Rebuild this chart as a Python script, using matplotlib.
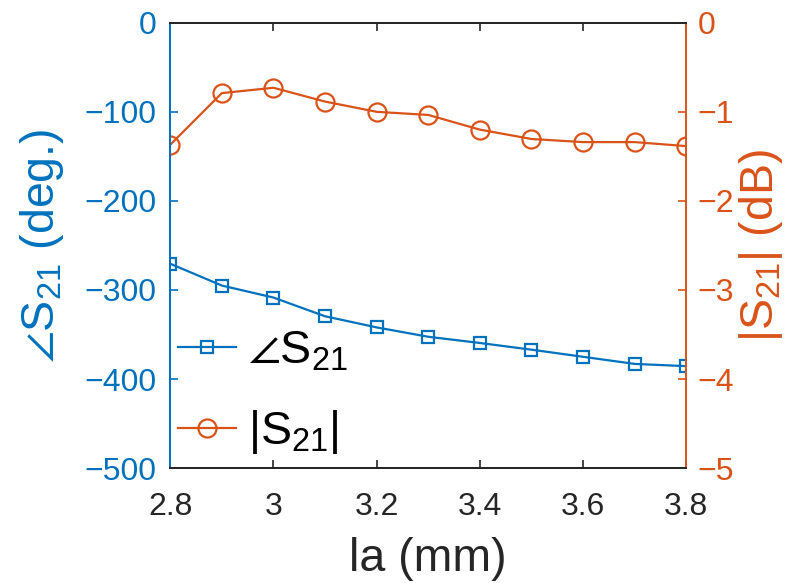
import numpy as np
import matplotlib
matplotlib.use("Agg")
import matplotlib.pyplot as plt

plt.rcParams['font.family'] = ['Liberation Sans', 'DejaVu Sans']
plt.rcParams['mathtext.fontset'] = 'custom'
plt.rcParams['mathtext.rm'] = 'Liberation Sans'
plt.rcParams['mathtext.it'] = 'Liberation Sans'
plt.rcParams['mathtext.default'] = 'regular'
plt.rcParams['mathtext.fallback'] = 'stixsans'

# data
la = [2.8, 2.9, 3.0, 3.1, 3.2, 3.3, 3.4, 3.5, 3.6, 3.7, 3.8]
phase_s21 = [-270.5, -295, -308.5, -329.5, -342, -352.5, -359.5, -367, -375, -383, -385.5]
mag_s21 = [-1.37, -0.79, -0.73, -0.885, -1.0, -1.035, -1.2, -1.305, -1.34, -1.34, -1.385]

x_ticks = [2.8, 3.0, 3.2, 3.4, 3.6, 3.8]
x_ticklabels = ['2.8', '3', '3.2', '3.4', '3.6', '3.8']
left_ticks = [-500, -400, -300, -200, -100, 0]
right_ticks = [-5, -4, -3, -2, -1, 0]

blue = '#0072BD'
orange = '#D95319'
dark = '#262626'

fig = plt.figure(figsize=(7.99, 5.83), dpi=100)
ax = fig.add_axes([0.213, 0.197, 0.646, 0.764])
ax2 = ax.twinx()

l1, = ax.plot(la, phase_s21, '-s', color=blue, lw=1.6, ms=8.5, mfc='none', mew=1.6)
l2, = ax2.plot(la, mag_s21, '-o', color=orange, lw=1.6, ms=13, mfc='none', mew=1.6)

ax.set_xlim(2.8, 3.8)
ax.set_ylim(-500, 0)
ax2.set_ylim(-5, 0)
ax.set_xticks(x_ticks)
ax.set_xticklabels(x_ticklabels)
ax.set_yticks(left_ticks)
ax2.set_yticks(right_ticks)
ax.set_yticklabels([str(t).replace('-', '\u2212') for t in left_ticks])
ax2.set_yticklabels([str(t).replace('-', '\u2212') for t in right_ticks])

ax.tick_params(axis='x', direction='in', top=True, labelsize=23, length=6, width=1.2, colors=dark, pad=17)
ax.tick_params(axis='y', direction='in', labelsize=23, length=6, width=1.2, colors=blue, pad=10)
ax2.tick_params(axis='y', direction='in', labelsize=23, length=6, width=1.2, colors=orange, pad=8)

for a in (ax, ax2):
    a.spines['top'].set_color(dark)
    a.spines['bottom'].set_color(dark)
    for s in a.spines.values():
        s.set_linewidth(1.4)
ax.spines['left'].set_color(blue)
ax2.spines['left'].set_color(blue)
ax2.spines['right'].set_color(orange)
ax.spines['right'].set_visible(False)

ax.set_xlabel('la (mm)', fontsize=33.5, color=dark, labelpad=11)
ax.set_ylabel('$\\angle$S$_{21}$ (deg.)', fontsize=33.5, color=blue, labelpad=13)
ax2.set_ylabel('|S$_{21}$| (dB)', fontsize=33.5, color=orange, labelpad=2)

leg = ax.legend([l1, l2], ['$\\angle$S$_{21}$', '|S$_{21}$|'], loc='lower left',
                frameon=False, fontsize=33.5, handlelength=1.25, handletextpad=0.25,
                labelspacing=0.75, borderaxespad=0.0, borderpad=0.0,
                bbox_to_anchor=(0.015, 0.027))

fig.savefig('out.png', dpi=100, facecolor='white')
